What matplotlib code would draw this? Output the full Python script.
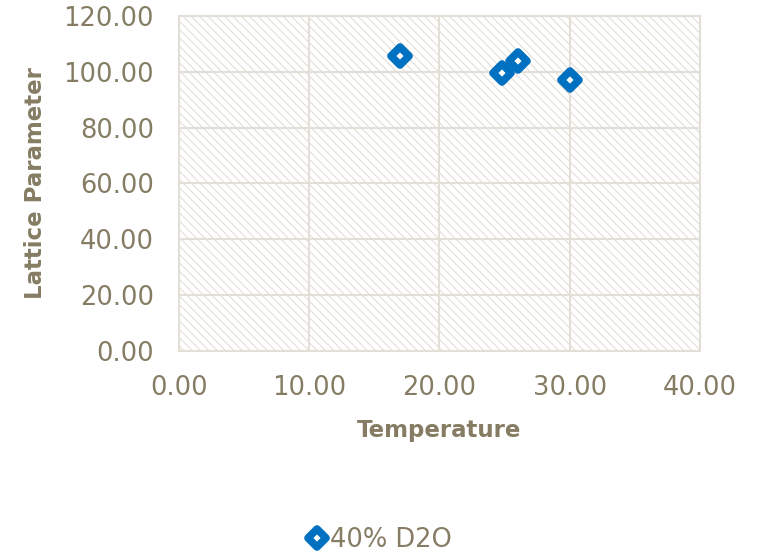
import matplotlib
matplotlib.use("Agg")
import matplotlib.pyplot as plt
from matplotlib.markers import MarkerStyle
from matplotlib.ticker import FormatStrFormatter

# Measured lattice parameter vs. temperature
temperature = [17.0, 24.8, 26.0, 30.0]
lattice_param = [105.7, 99.6, 103.9, 97.1]
series_name = "40% D2O"

x_ticks = [0, 10, 20, 30, 40]
y_ticks = [0, 20, 40, 60, 80, 100, 120]

text_color = "#857C63"
grid_color = "#E2DFD6"
hatch_color = "#DEDBD2"
marker_color = "#0070C0"

plt.rcParams["font.family"] = ["DejaVu Sans"]
plt.rcParams["hatch.color"] = hatch_color
plt.rcParams["hatch.linewidth"] = 0.7

fig = plt.figure(figsize=(7.61, 5.55), dpi=100)
ax = fig.add_axes([0.2352, 0.3676, 0.6846, 0.6036])

ax.patch.set_facecolor("white")
ax.patch.set_hatch("\\\\\\\\")
ax.patch.set_edgecolor(hatch_color)

ax.set_xlim(0, 40)
ax.set_ylim(0, 120)
ax.set_xticks(x_ticks)
ax.set_yticks(y_ticks)
ax.xaxis.set_major_formatter(FormatStrFormatter("%.2f"))
ax.yaxis.set_major_formatter(FormatStrFormatter("%.2f"))
ax.tick_params(length=0, labelsize=18.5, labelcolor=text_color)
ax.tick_params(axis="x", pad=17)
ax.tick_params(axis="y", pad=18)

ax.grid(True, color=grid_color, linewidth=1.5)
ax.set_axisbelow(True)
for s in ax.spines.values():
    s.set_color(grid_color)
    s.set_linewidth(1.5)

diamond = MarkerStyle("D", joinstyle="round")
ax.plot(temperature, lattice_param, linestyle="none", marker=diamond,
        markersize=9, markerfacecolor="white", markeredgecolor=marker_color,
        markeredgewidth=5.5, label=series_name, clip_on=False, zorder=5)

ax.set_xlabel("Temperature", fontsize=16.5, fontweight="bold", color=text_color, labelpad=13)
ax.set_ylabel("Lattice Parameter", fontsize=16.5, fontweight="bold", color=text_color, labelpad=12)

leg = fig.legend(loc="center", bbox_to_anchor=(0.5, 1 - 540 / 555), frameon=False,
                 fontsize=18.5, handlelength=0.6, handletextpad=0.2, labelcolor=text_color)

fig.savefig("out.png", dpi=100)
